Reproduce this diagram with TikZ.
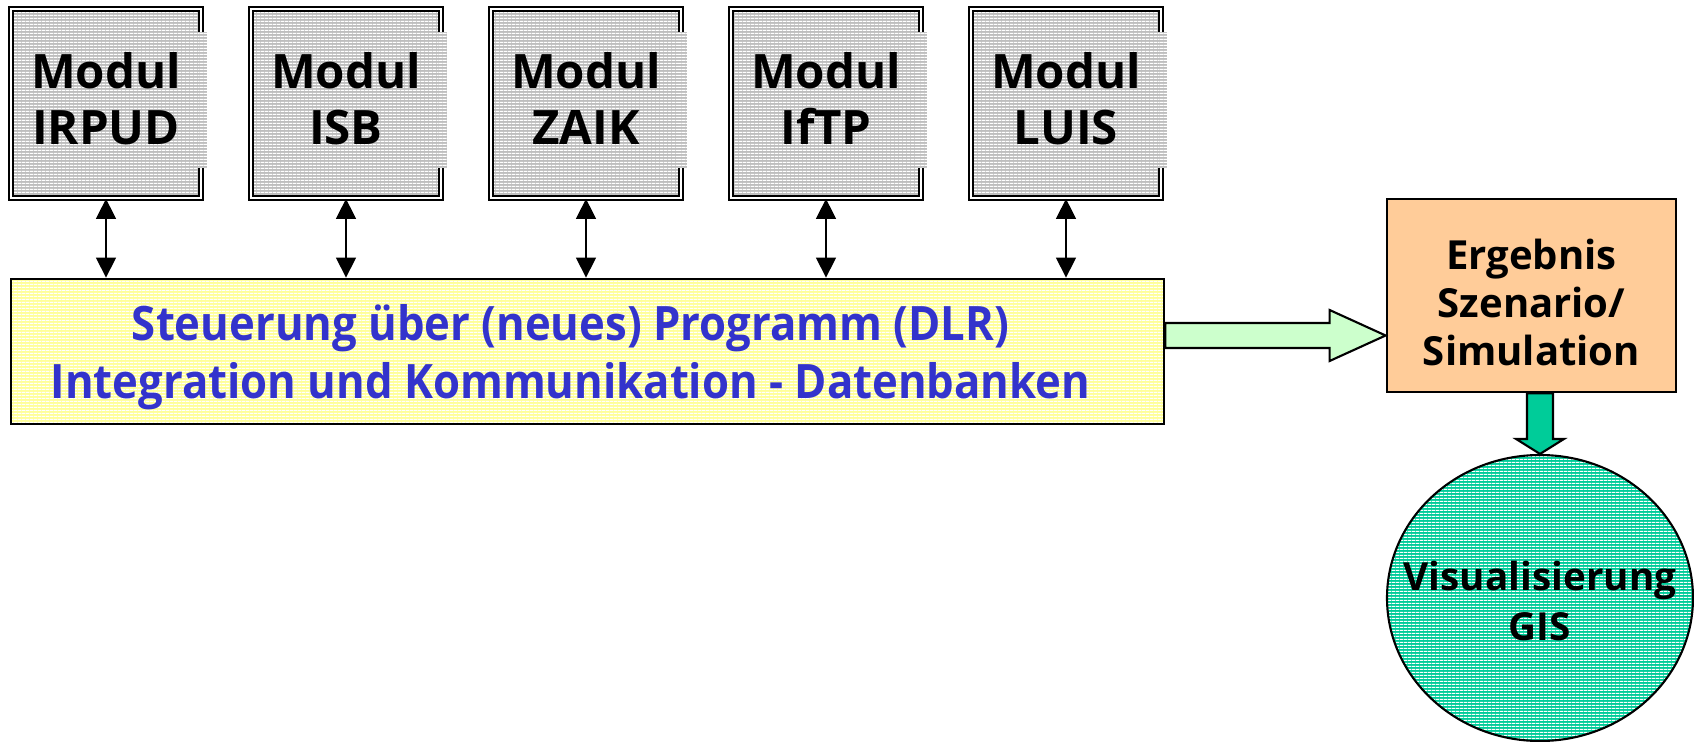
\documentclass[tikz,border=0pt]{standalone}
\usepackage{fontspec}
\setmainfont{Open Sans}
\newfontfamily\narrowsans{Open Sans}[FakeStretch=0.92]
\usepackage{tikz}
\usetikzlibrary{shapes.geometric, arrows.meta, calc, patterns.meta}
\definecolor{modulgray}{RGB}{190, 190, 190}
\definecolor{baryellow}{RGB}{255, 255, 153}
\definecolor{textblue}{RGB}{51, 51, 204}
\definecolor{resorange}{RGB}{255, 204, 153}
\definecolor{flowgreen}{RGB}{204, 255, 204}
\definecolor{gisgreen}{RGB}{0, 204, 153}

\tikzdeclarepattern{
  name=hlines,
  type=uncolored,
  bottom left={(0pt,0pt)},
  top right={(1pt,0.85pt)},
  tile size={(1pt,0.85pt)},
  code={
    \pgfsetlinewidth{0.3pt}
    \pgfpathmoveto{\pgfpoint{-0.1pt}{0.2pt}}
    \pgfpathlineto{\pgfpoint{1.1pt}{0.2pt}}
    \pgfusepath{stroke}
  }
}

\begin{document}
\begin{tikzpicture}[
    modul/.style={draw, double=white, double distance=0.6pt, line width=0.5pt,
      preaction={fill=modulgray}, pattern=hlines, pattern color=white,
      minimum width=1.9cm, minimum height=1.89cm, inner sep=0pt, align=center,
      text depth=0.1cm, font=\fontsize{13.5}{16.2}\selectfont\bfseries},
    strip/.style={modulgray, postaction={pattern=hlines, pattern color=white}},
    link/.style={line width=0.4pt, {Triangle[length=0.2cm, width=0.2cm]}-{Triangle[length=0.2cm, width=0.2cm]}},
  ]
    \useasboundingbox (0, 0) rectangle (16.94, -7.42);

    % Module (top row)
    \node[modul] (irpud) at (1.06, -1.035) {Modul\\IRPUD};
    \node[modul] (isb)   at (3.46, -1.035) {Modul\\ISB};
    \node[modul] (zaik)  at (5.86, -1.035) {Modul\\ZAIK};
    \node[modul] (iftp)  at (8.26, -1.035) {Modul\\IfTP};
    \node[modul] (luis)  at (10.66, -1.035) {Modul\\LUIS};

    \fill[strip] ($(irpud.north east)+(-0.04,-0.24)$) rectangle ($(irpud.south east)+(0.05,0.31)$);
    \fill[strip] ($(isb.north east)+(-0.04,-0.24)$) rectangle ($(isb.south east)+(0.05,0.31)$);
    \fill[strip] ($(zaik.north east)+(-0.04,-0.24)$) rectangle ($(zaik.south east)+(0.05,0.31)$);
    \fill[strip] ($(iftp.north east)+(-0.04,-0.24)$) rectangle ($(iftp.south east)+(0.05,0.31)$);
    \fill[strip] ($(luis.north east)+(-0.04,-0.24)$) rectangle ($(luis.south east)+(0.05,0.31)$);

    % Steuerung
    \node[draw, line width=0.8pt, preaction={fill=baryellow}, pattern=hlines, pattern color=white,
      minimum width=11.53cm, minimum height=1.45cm, inner sep=0pt] (ctrl) at (5.875, -3.515) {};
    \node[align=center, inner sep=0pt, text=textblue, font=\narrowsans\fontsize{13.5}{16.5}\selectfont\bfseries]
      (ctrltext) at ($(ctrl.center)+(-0.17, -0.06)$)
      {Steuerung über (neues) Programm (DLR)\\Integration und Kommunikation - Datenbanken};

    \draw[link] (irpud.south) -- (irpud.south |- ctrl.north);
    \draw[link] (isb.south) -- (isb.south |- ctrl.north);
    \draw[link] (zaik.south) -- (zaik.south |- ctrl.north);
    \draw[link] (iftp.south) -- (iftp.south |- ctrl.north);
    \draw[link] (luis.south) -- (luis.south |- ctrl.north);

    % Ergebnis
    \node[draw, line width=0.8pt, fill=resorange, minimum width=2.89cm, minimum height=1.93cm,
      inner sep=0pt] (res) at (15.315, -2.955) {};
    \node[align=center, inner sep=0pt, font=\fontsize{11.4}{13.6}\selectfont\bfseries] (restext)
      at ($(res.center)+(0, -0.07)$) {Ergebnis\\Szenario/\\Simulation};

    \coordinate (ga) at ($(ctrl.east)+(0, 0.16)$);
    \coordinate (gb) at (res.west |- ga);
    \draw[line width=0.6pt, fill=flowgreen] ($(ga)+(0, 0.125)$) -- ($(gb)+(-0.56, 0.125)$) -- ($(gb)+(-0.56, 0.255)$)
      -- (gb) -- ($(gb)+(-0.56, -0.255)$) -- ($(gb)+(-0.56, -0.125)$) -- ($(ga)+(0, -0.125)$) -- cycle;

    % Visualisierung
    \node[ellipse, draw, line width=0.6pt, preaction={fill=gisgreen}, pattern=hlines, pattern color=white,
      minimum width=3.06cm, minimum height=2.86cm, inner sep=0pt] (vis) at (15.40, -5.98) {};
    \node[align=center, inner sep=0pt, font=\fontsize{11}{14}\selectfont\bfseries] (vistext) at ($(vis.center)+(0, -0.03)$)
      {Visualisierung\\GIS};

    \coordinate (da) at ($(res.south)+(0.085, 0)$);
    \coordinate (db) at (da |- vis.north);
    \draw[line width=0.6pt, fill=gisgreen] ($(da)+(-0.13, 0)$) -- ($(db)+(-0.13, 0.15)$) -- ($(db)+(-0.24, 0.15)$)
      -- (db) -- ($(db)+(0.24, 0.15)$) -- ($(db)+(0.13, 0.15)$) -- ($(da)+(0.13, 0)$) -- cycle;
\end{tikzpicture}
\end{document}
